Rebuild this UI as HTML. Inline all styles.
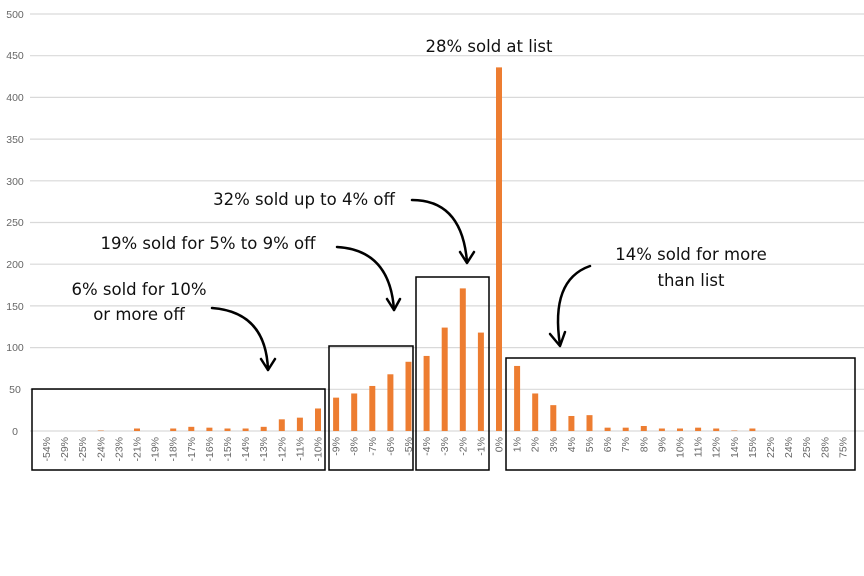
<!DOCTYPE html><html><head><style>body{margin:0;background:#fff}svg{display:block}</style></head><body>
<svg width="864" height="576" viewBox="0 0 864 576" xmlns="http://www.w3.org/2000/svg">
<g stroke="#d9d9d9" stroke-width="1.2">
<line x1="30" x2="864" y1="431" y2="431"/><line x1="30" x2="864" y1="389.3" y2="389.3"/><line x1="30" x2="864" y1="347.6" y2="347.6"/><line x1="30" x2="864" y1="305.9" y2="305.9"/><line x1="30" x2="864" y1="264.2" y2="264.2"/><line x1="30" x2="864" y1="222.5" y2="222.5"/><line x1="30" x2="864" y1="180.8" y2="180.8"/><line x1="30" x2="864" y1="139.1" y2="139.1"/><line x1="30" x2="864" y1="97.4" y2="97.4"/><line x1="30" x2="864" y1="55.7" y2="55.7"/><line x1="30" x2="864" y1="14" y2="14"/>
</g>
<g font-family="Liberation Sans, sans-serif" font-size="10.5" fill="#666" text-anchor="middle">
<text x="15" y="435">0</text><text x="15" y="393">50</text><text x="15" y="351">100</text><text x="15" y="310">150</text><text x="15" y="268">200</text><text x="15" y="226">250</text><text x="15" y="185">300</text><text x="15" y="143">350</text><text x="15" y="101">400</text><text x="15" y="59">450</text><text x="15" y="18">500</text>
</g>
<g id="bars" fill="#ed7d31"></g>
<g id="labs" font-family="Liberation Sans, sans-serif" font-size="10.5" fill="#666"></g>
<g fill="none" stroke="#000" stroke-width="1.5">
<rect x="32" y="389" width="293" height="81"/><rect x="329" y="346" width="84" height="124"/><rect x="416" y="277" width="73" height="193"/><rect x="506" y="358" width="349" height="112"/>
</g>
<g font-family="DejaVu Sans, Liberation Sans, sans-serif" font-size="16.5" fill="#111" text-anchor="middle">
<text x="489" y="52">28% sold at list</text>
<text x="304" y="205">32% sold up to 4% off</text>
<text x="208" y="249">19% sold for 5% to 9% off</text>
<text x="139" y="295">6% sold for 10%</text>
<text x="139" y="320">or more off</text>
<text x="691" y="260">14% sold for more</text>
<text x="691" y="286">than list</text>
</g>
<g fill="none" stroke="#000" stroke-width="2.5" stroke-linecap="round" stroke-linejoin="round">
<path d="M412 200 Q462 200 467 262"/><path d="M460 252 L467 263 L474 252"/>
<path d="M337 247 Q390 250 394 310"/><path d="M387 299 L394 310 L400 299"/>
<path d="M212 308 Q266 312 268 370"/><path d="M261 359 L268 370 L275 359"/>
<path d="M590 266 Q550 280 560 345"/><path d="M550 334 L560 346 L565 332"/>
</g>
</svg>
<script>
var c=["-54%","-29%","-25%","-24%","-23%","-21%","-19%","-18%","-17%","-16%","-15%","-14%","-13%","-12%","-11%","-10%","-9%","-8%","-7%","-6%","-5%","-4%","-3%","-2%","-1%","0%","1%","2%","3%","4%","5%","6%","7%","8%","9%","10%","11%","12%","14%","15%","22%","24%","25%","28%","75%"];
var v=[0,0,0,1,0,3,0,3,5,4,3,3,5,14,16,27,40,45,54,68,83,90,124,171,118,436,78,45,31,18,19,4,4,6,3,3,4,3,1,3,0,0,0,0,0];
var b="",l="";
for(var i=0;i<c.length;i++){var x=46.5+i*18.1,h=v[i]*0.834;
if(h>0)b+='<rect x="'+(x-3)+'" y="'+(431-h)+'" width="6" height="'+h+'"'+(v[i]<2?' opacity="0.5"':'')+'/>';
l+='<text transform="translate('+(x+3.5)+',437) rotate(-90)" text-anchor="end">'+c[i]+'</text>';}
document.getElementById("bars").innerHTML=b;document.getElementById("labs").innerHTML=l;
</script>
</body></html>
